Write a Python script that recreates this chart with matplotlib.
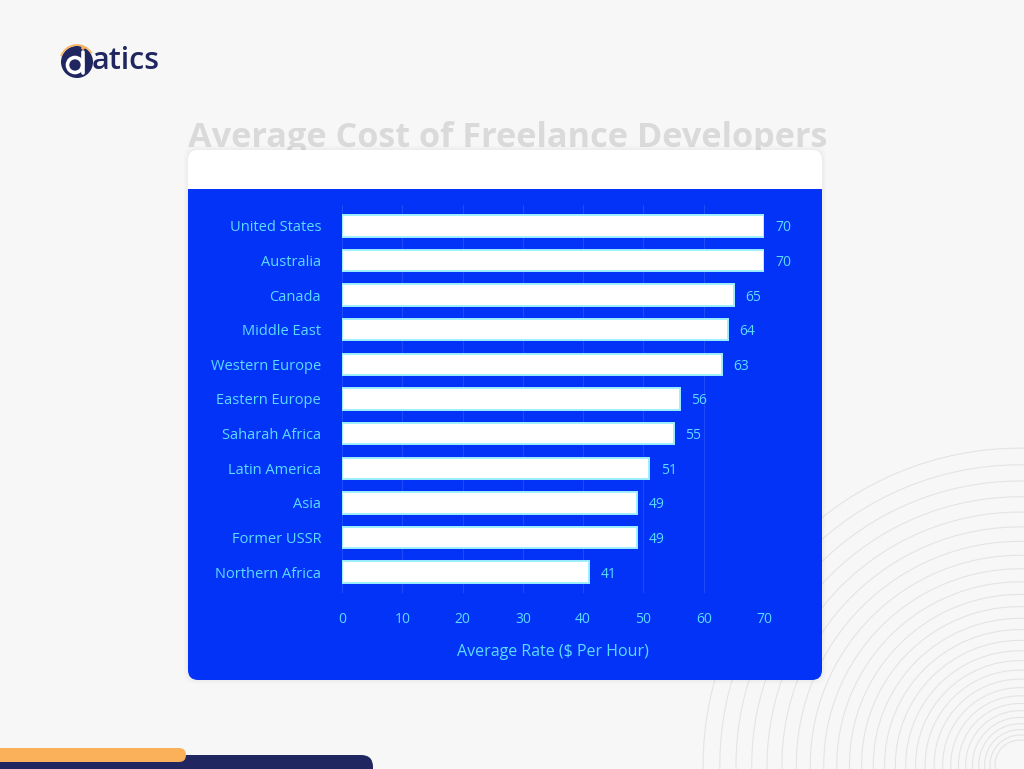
import numpy as np
import matplotlib.pyplot as plt
from matplotlib.patches import FancyBboxPatch, Rectangle, Circle, Arc

plt.rcParams['font.family'] = ['Open Sans', 'DejaVu Sans']

# data
regions = ["United States", "Australia", "Canada", "Middle East", "Western Europe",
           "Eastern Europe", "Saharah Africa", "Latin America", "Asia", "Former USSR",
           "Northern Africa"]
rates = [70, 70, 65, 64, 63, 56, 55, 51, 49, 49, 41]
x_ticks = [0, 10, 20, 30, 40, 50, 60, 70]

title = "Average Cost of Freelance Developers"
x_label = "Average Rate ($ Per Hour)"

W, H = 1024, 769
BLUE = "#0433f8"
CYAN = "#5adcff"
NAVY = "#1f2660"
ORANGE = "#fbb15a"

fig = plt.figure(figsize=(W / 100, H / 100), dpi=100)
fig.patch.set_facecolor("#f7f7f7")

# background layer in pixel coordinates
bg = fig.add_axes([0, 0, 1, 1])
bg.set_xlim(0, W)
bg.set_ylim(H, 0)
bg.axis("off")

# concentric arcs bottom right
for r in np.linspace(5, 17.8, 28) ** 2:
    bg.add_patch(Circle((1020, 765), r, fill=False, ec="#e4e4e7", lw=0.8, zorder=1))

# title (partly hidden by the card)
bg.text(508, 138, title, ha="center", va="center", fontsize=24.7, fontweight="bold",
        color="#dadada", zorder=2)

# card shadow
for i, a in enumerate([0.025, 0.02, 0.015]):
    bg.add_patch(FancyBboxPatch((188 - 2 * i, 150 - 2 * i), 634 + 4 * i, 530 + 4 * i,
                                boxstyle="round,pad=0,rounding_size=12",
                                fc="black", ec="none", alpha=a, zorder=3))
# card
bg.add_patch(FancyBboxPatch((188, 150), 634, 530, boxstyle="round,pad=0,rounding_size=10",
                            fc="white", ec="none", zorder=4))
bg.add_patch(FancyBboxPatch((188, 189), 634, 491, boxstyle="round,pad=0,rounding_size=10",
                            fc=BLUE, ec="none", zorder=5))
bg.add_patch(Rectangle((188, 189), 634, 20, fc=BLUE, ec="none", zorder=5))

# logo
bg.add_patch(Circle((77, 62), 16, fc=NAVY, ec="none", zorder=6))
bg.add_patch(Arc((77, 62), 34, 34, theta1=200, theta2=330, ec=ORANGE, lw=1.2, zorder=6))
bg.add_patch(Circle((75, 65), 7.5, fill=False, ec="white", lw=2.6, zorder=7))
bg.plot([83, 83], [52, 73], color="white", lw=2.6, solid_capstyle="round", zorder=7)
bg.add_patch(Circle((83, 48), 1.8, fc=ORANGE, ec="none", zorder=7))
bg.text(92, 61, "atics", ha="left", va="center", fontsize=22, fontweight="semibold",
        color=NAVY, zorder=7)

# bottom decoration bars
bg.add_patch(FancyBboxPatch((-20, 755), 393, 30, boxstyle="round,pad=0,rounding_size=12",
                            fc=NAVY, ec="none", zorder=6))
bg.add_patch(FancyBboxPatch((-20, 748), 206, 14, boxstyle="round,pad=0,rounding_size=7",
                            fc=ORANGE, ec="none", zorder=7))

# chart
ax = fig.add_axes([342 / W, 1 - 593 / H, (764 - 342) / W, (593 - 205) / H])
ax.set_zorder(2)
ax.patch.set_alpha(0)
y = np.arange(len(regions))
ax.barh(y, rates, height=0.62, color="white", edgecolor="#9ff0ff", linewidth=1.4, zorder=3)
for yi, v in zip(y, rates):
    ax.annotate(str(v), (v, yi), xytext=(8, 0), textcoords="offset points",
                ha="left", va="center_baseline", color=CYAN, fontsize=10,
                annotation_clip=False)

ax.set_xlim(0, 70)
ax.set_ylim(len(regions) - 0.4, -0.6)
ax.set_yticks(y)
ax.set_yticklabels(regions)
ax.set_xticks(x_ticks)
ax.tick_params(axis="y", length=0, pad=15, labelcolor=CYAN, labelsize=10.5)
ax.tick_params(axis="x", length=0, pad=14, labelcolor=CYAN, labelsize=10)
for t in x_ticks:
    ax.axvline(t, color="#1d4af9", lw=0.8, zorder=1)
for s in ax.spines.values():
    s.set_visible(False)
ax.set_xlabel(x_label, color=CYAN, fontsize=11.5, labelpad=12)

fig.savefig("out.png", dpi=100, facecolor=fig.get_facecolor())
